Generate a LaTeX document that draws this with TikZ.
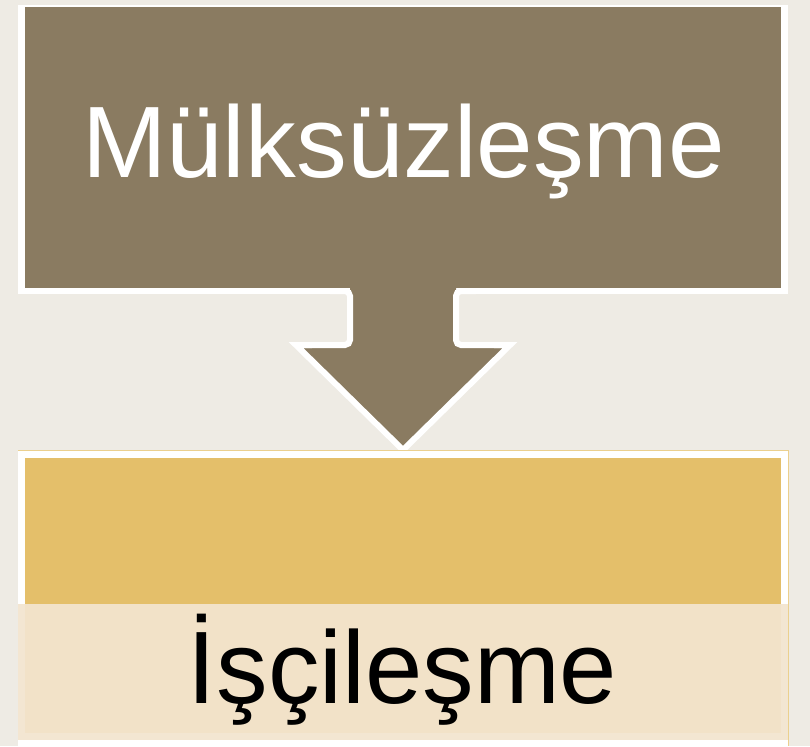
\documentclass[tikz,border=0pt]{standalone}
\usepackage{fontspec}
\setmainfont{Liberation Sans}
\definecolor{bg}{HTML}{EEEBE4}
\definecolor{brownbox}{HTML}{8A7B61}
\definecolor{goldbox}{HTML}{E4BF6A}
\definecolor{goldline}{HTML}{EBD08E}
\definecolor{bandout}{HTML}{F3E6D2}
\definecolor{bandin}{HTML}{F2E2C8}
\begin{document}
\begin{tikzpicture}[x=1pt,y=-1pt,
  bigtext/.style={inner sep=0pt, anchor=base},
  outline/.style={draw=white, line width=6pt}]
\useasboundingbox[fill=bg] (0,0) rectangle (810,746);
% top box
\fill[white] (18,5) rectangle (788,294);
\fill[brownbox] (25,7) rectangle (781,288);
% arrow
\fill[brownbox] (350,285) -- (350,345) -- (296,345) -- (403,450) -- (510,345) -- (456,345) -- (456,285) -- cycle;
\draw[outline, rounded corners=5pt] (330,291) -- (350,291) -- (350,345) -- (305,345);
\draw[outline, rounded corners=5pt] (501,345) -- (456,345) -- (456,291) -- (476,291);
\draw[outline] (312,345) -- (296,345) -- (403,450) -- (510,345) -- (494,345);
% bottom box
\fill[white] (18,451) rectangle (788,746);
\draw[goldline, line width=1pt] (18,450.5) -- (788.5,450.5) -- (788.5,746);
\fill[goldbox] (25,458) rectangle (781,733);
\fill[bandout] (18,604) rectangle (788,740);
\fill[bandin] (25,604) rectangle (781,733);
% texts
\node[bigtext, text=white, font=\fontsize{101.5}{112}\selectfont] (top) at (403.5,178) {Mülksüzleşme};
\node[bigtext, text=black, font=\fontsize{103}{114}\selectfont] (bottom) at (402.5,703) {İşçileşme};
\end{tikzpicture}
\end{document}
